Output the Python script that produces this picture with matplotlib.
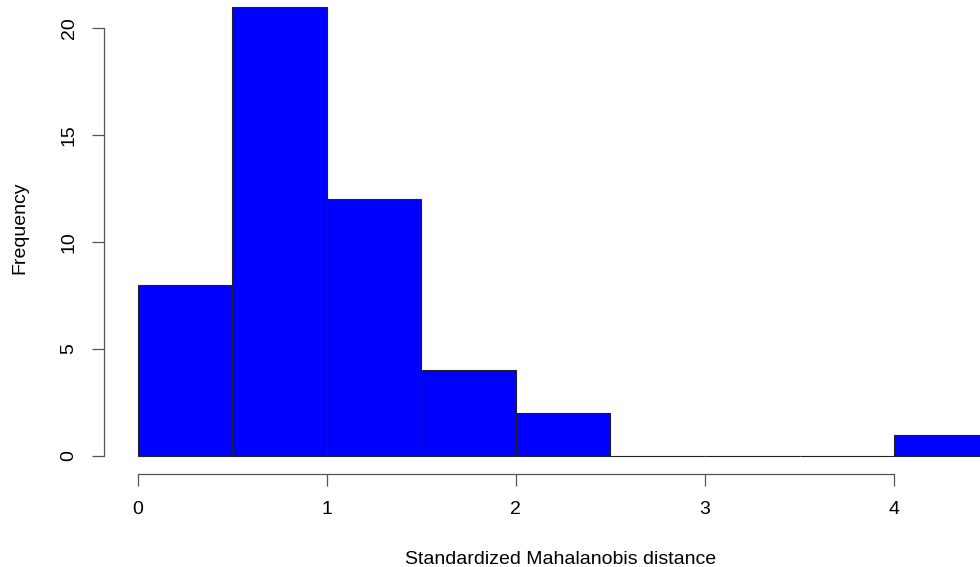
import matplotlib
matplotlib.use("Agg")
import matplotlib.pyplot as plt
import numpy as np

bin_edges = [0.0, 0.5, 1.0, 1.5, 2.0, 2.5, 3.0, 3.5, 4.0, 4.5]
counts = [8, 21, 12, 4, 2, 0, 0, 0, 1]
x_ticks = [0, 1, 2, 3, 4]
y_ticks = [0, 5, 10, 15, 20]
x_label = "Standardized Mahalanobis distance"
y_label = "Frequency"

plt.rcParams['font.family'] = ['Liberation Sans', 'DejaVu Sans']

W, H = 980, 567
fig = plt.figure(figsize=(W / 100, H / 100), dpi=100)
left_px, bottom_px = 103.5, 474
ax = fig.add_axes([left_px / W, (H - bottom_px) / H, (W - left_px) / W, bottom_px / H])

px_per_x = 189.1
px_per_y = 21.4
x0_px = 137.7
y0_px = 456
ax.set_xlim((left_px - x0_px) / px_per_x, (W - x0_px) / px_per_x)
ax.set_ylim(-(bottom_px - y0_px) / px_per_y, y0_px / px_per_y)

widths = np.diff(bin_edges)
ax.bar(bin_edges[:-1], counts, width=widths, align='edge', color='#0000ff',
       edgecolor='#222222', linewidth=0.8)

for s in ['top', 'right']:
    ax.spines[s].set_visible(False)
ax.spines['left'].set_bounds(y_ticks[0], y_ticks[-1])
ax.spines['bottom'].set_bounds(x_ticks[0], x_ticks[-1])
for s in ['left', 'bottom']:
    ax.spines[s].set_color('#555555')
    ax.spines[s].set_linewidth(0.9)

ax.set_xticks(x_ticks)
ax.set_yticks(y_ticks)
ax.tick_params(axis='both', direction='out', length=8.6, width=0.9, color='#555555',
               labelsize=14, labelcolor='black')
ax.tick_params(axis='x', pad=11)
ax.tick_params(axis='y', pad=10)
for lab in ax.get_yticklabels():
    lab.set_rotation(90)
    lab.set_va('center')

fig.text(561 / W, 1 - 560 / H, x_label, ha='center', va='center', fontsize=14)
fig.text(20 / W, 1 - 228 / H, y_label, ha='center', va='center', fontsize=14, rotation=90)

fig.savefig("out.png", dpi=100)
